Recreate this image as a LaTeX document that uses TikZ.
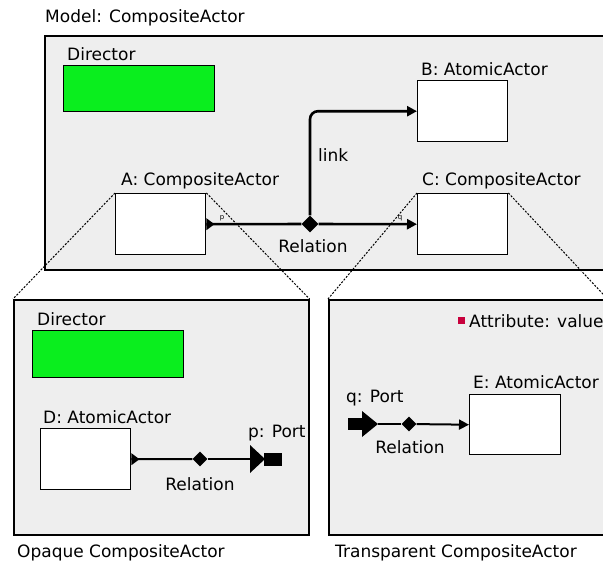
\documentclass[tikz,border=0pt]{standalone}
\usepackage{fontspec}
\setmainfont{DejaVu Sans}
\usetikzlibrary{arrows.meta,shapes.geometric}
\definecolor{dirgreen}{RGB}{10,238,30}
\definecolor{panel}{RGB}{238,238,238}
\definecolor{attrred}{RGB}{200,0,60}
\begin{document}
\begin{tikzpicture}[x=1pt,y=-1pt,
  txt/.style={font=\fontsize{17}{20}\selectfont, inner sep=0pt, anchor=base west},
  ctxt/.style={font=\fontsize{17}{20}\selectfont, inner sep=0pt, anchor=base},
  tiny/.style={font=\fontsize{7}{8}\selectfont, inner sep=0pt, anchor=base},
  panelbox/.style={draw, fill=panel, line width=1.6pt, inner sep=0pt, anchor=north west},
  actorbox/.style={draw, fill=white, line width=1.4pt, inner sep=0pt, anchor=north west},
  dirbox/.style={draw, fill=dirgreen, line width=1.4pt, inner sep=0pt, anchor=north west},
  reldiamond/.style={diamond, fill=black, inner sep=0pt, minimum size=17pt},
  thickconn/.style={line width=2.6pt},
  thinconn/.style={line width=2pt},
  tip/.style={-{Triangle[length=10pt,width=10pt]}},
  zoomline/.style={line width=1pt, dash pattern=on 2pt off 1.5pt},
]
\fill[white] (0,0) rectangle (603,566);
\clip (0,0) rectangle (603,566);
\useasboundingbox (0,0) rectangle (603,566);

% panels
\node[panelbox, minimum width=562, minimum height=234] (top) at (44,35) {};
\node[panelbox, minimum width=295, minimum height=235] (lp) at (13,299) {};
\node[panelbox, minimum width=278, minimum height=235] (rp) at (328,299) {};

% top model
\node[txt] (lModel) at (45,22) {Model: CompositeActor};
\node[txt] (lDir1) at (67,60) {Director};
\node[dirbox, minimum width=151, minimum height=46] (dir1) at (63,65) {};
\node[txt] (lB) at (421,75) {B: AtomicActor};
\node[actorbox, minimum width=90, minimum height=61] (B) at (417,80) {};
\node[txt] (lA) at (121,185) {A: CompositeActor};
\node[actorbox, minimum width=90, minimum height=61] (A) at (115,193) {};
\node[txt] (lC) at (422,185) {C: CompositeActor};
\node[actorbox, minimum width=90, minimum height=61] (C) at (417,193) {};
\node[txt] (lLink) at (318,161) {link};
\node[reldiamond] (rel1) at (310,224) {};
\node[ctxt] (lRel1) at (313,252) {Relation};
\node[tiny] (lp1) at (222,219) {p};
\node[tiny] (lq1) at (400,219) {q};

\fill (A.east) ++(0,-6) -- ++(8,6) -- ++(-8,6) -- cycle;
\draw[thickconn] (A.east) -- (rel1);
\draw[thickconn, tip] (rel1) -- (C.west);
\draw[thickconn, tip, rounded corners=8pt] (rel1) |- (B.west);

% lower left (opaque)
\node[txt] (lDir2) at (37,325) {Director};
\node[dirbox, minimum width=151, minimum height=47] (dir2) at (32,330) {};
\node[txt] (lD) at (43,423) {D: AtomicActor};
\node[actorbox, minimum width=90, minimum height=61] (D) at (40,428) {};
\node[reldiamond, minimum size=15pt] (rel2) at (200,459) {};
\node[ctxt] (lRel2) at (200,490) {Relation};
\node[txt] (lPp) at (248,437) {p: Port};
\coordinate (pp) at (250,459);
\fill (D.east) ++(0,-6) -- ++(8,6) -- ++(-8,6) -- cycle;
\draw[thinconn] (D.east) -- (rel2);
\draw[thinconn] (rel2) -- (pp);
\fill (pp) ++(0,-14) -- ++(15,14) -- ++(-15,14) -- cycle;
\fill (pp) ++(14,-6.5) rectangle ++(18,13);
\node[txt] (lOpaque) at (17,557) {Opaque CompositeActor};

% lower right (transparent)
\node[fill=attrred, inner sep=0pt, minimum size=7pt] (attr) at (461,320) {};
\node[txt] (lAttr) at (469,327) {Attribute: value};
\node[txt] (lE) at (473,388) {E: AtomicActor};
\node[actorbox, minimum width=91, minimum height=60] (E) at (469,394) {};
\node[txt] (lQp) at (346,402) {q: Port};
\coordinate (qp) at (348,424);
\coordinate (qtip) at (378,424);
\fill (qp) ++(0,-6) rectangle ++(15,12);
\fill (qp) ++(14,-13) -- ++(16,13) -- ++(-16,13) -- cycle;
\node[reldiamond, minimum size=15pt] (rel3) at (409,424) {};
\node[ctxt] (lRel3) at (410,453) {Relation};
\draw[thinconn] (qtip) -- (rel3);
\draw[thinconn, tip] (rel3) -- (E.west);
\node[txt] (lTransp) at (335,557) {Transparent CompositeActor};

% zoom lines
\draw[zoomline] (A.north west) -- (lp.north west);
\draw[zoomline] (A.north east) -- (lp.north east);
\draw[zoomline] (C.north west) -- (rp.north west);
\draw[zoomline] (C.north east) -- (rp.north east);
\end{tikzpicture}
\end{document}
